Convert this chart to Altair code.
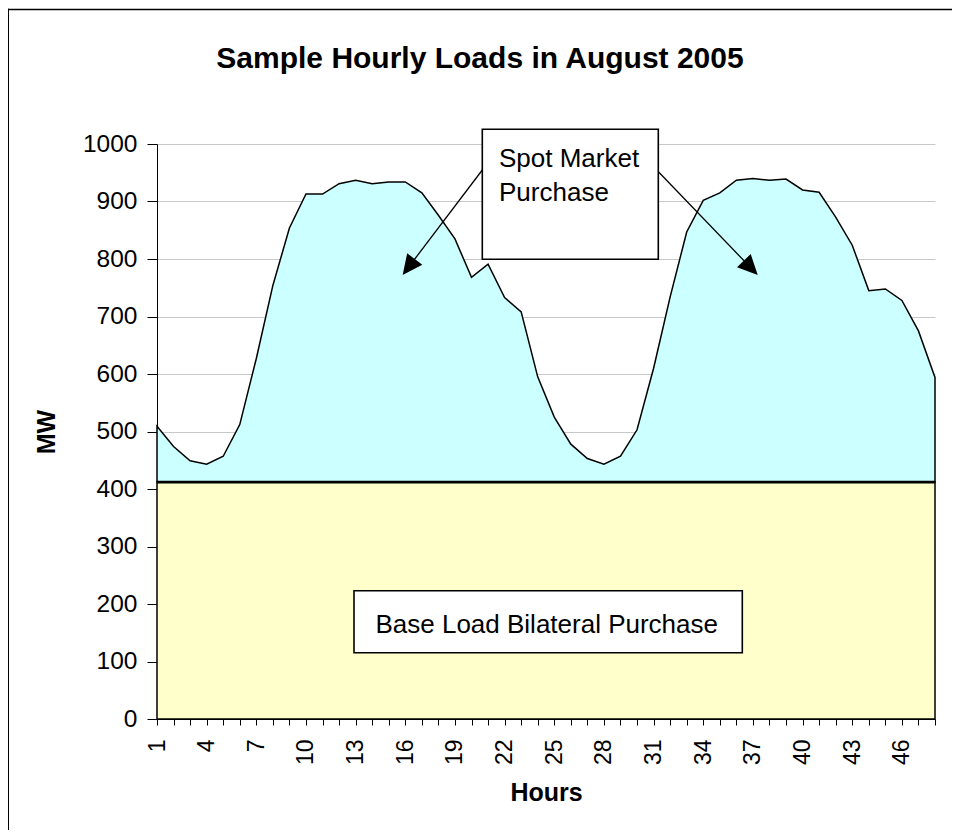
import altair as alt
import pandas as pd

# ---------------- data ----------------
HOURS = list(range(1, 49))
LOAD_MW = [509, 474, 449, 443, 457, 512, 627, 754, 854, 913,
           913, 931, 937, 931, 934, 934, 915, 876, 835, 768,
           791, 733, 708, 595, 525, 478, 453, 443, 457, 503,
           610, 734, 847, 902, 915, 937, 940, 937, 939, 920,
           916, 873, 824, 745, 748, 728, 675, 594]
BASE_MW = 412
Y_TICKS = [0, 100, 200, 300, 400, 500, 600, 700, 800, 900, 1000]
TITLE = "Sample Hourly Loads in August 2005"
SPOT_LABEL = ["Spot Market", "Purchase"]
BASE_LABEL = "Base Load Bilateral Purchase"

df = pd.DataFrame({
    "hour": HOURS,
    "load": LOAD_MW,
    "base": [BASE_MW] * len(HOURS),
    "zero": [0] * len(HOURS),
})
one = pd.DataFrame({"k": [0]})

FONT = "Liberation Sans"
W, H = 778, 575

x_scale = alt.Scale(domain=[1, 48], nice=False, zero=False)
y_scale = alt.Scale(domain=[0, 1000], nice=False)

x_axis = alt.Axis(
    title="Hours", values=HOURS, tickCount=len(HOURS),
    labelExpr="(datum.value - 1) % 3 == 0 ? datum.label : ''",
    labelAngle=270, labelFont=FONT, labelFontSize=23, labelColor="black",
    labelPadding=14, labelOverlap=False, labelFlush=False,
    tickSize=6, tickColor="black", domainColor="black", domainWidth=1,
    grid=False,
    titleFont=FONT, titleFontSize=25, titleFontWeight="bold", titleColor="black",
    titleY=81, titleBaseline="alphabetic",
)
y_axis = alt.Axis(
    title="MW", values=Y_TICKS, tickCount=len(Y_TICKS), format="d",
    labelFont=FONT, labelFontSize=24.5, labelColor="black", labelPadding=10,
    tickSize=10, tickColor="black", domainColor="black", domainWidth=1,
    grid=True, gridColor="#c8c8c8", gridWidth=1,
    titleFont=FONT, titleFontSize=25, titleFontWeight="bold", titleColor="black",
    titleAngle=270, titleX=-103, titleBaseline="alphabetic",
)

base = alt.Chart(df)

border_left = alt.Chart(one).mark_rule(color="black", strokeWidth=1.6).encode(
    x=alt.value(-148.8), x2=alt.value(-148.8), y=alt.value(-135.3), y2=alt.value(800))
border_top = alt.Chart(one).mark_rule(color="black", strokeWidth=1.6).encode(
    x=alt.value(-149.6), x2=alt.value(900), y=alt.value(-134.5), y2=alt.value(-134.5))

base_area = base.mark_area(fill="#FFFFCC", stroke="black", strokeWidth=1.5).encode(
    x=alt.X("hour:Q", scale=x_scale, axis=x_axis),
    y=alt.Y("base:Q", scale=y_scale, axis=y_axis),
    y2="zero:Q",
)
spot_area = base.mark_area(fill="#CCFFFF", stroke="black", strokeWidth=1.5).encode(
    x="hour:Q", y="load:Q", y2="base:Q")
base_line = base.mark_line(color="black", strokeWidth=2.6).encode(
    x="hour:Q", y="base:Q")

spot_box = alt.Chart(one).mark_rect(fill="white", stroke="black", strokeWidth=1.6).encode(
    x=alt.value(325.3), x2=alt.value(501.3), y=alt.value(-14.7), y2=alt.value(115.3))
spot_text = alt.Chart(one).mark_text(
    text=SPOT_LABEL, font=FONT, fontSize=26, align="left", baseline="alphabetic",
    lineHeight=34, color="black").encode(x=alt.value(342), y=alt.value(22.7))

arrow1 = alt.Chart(one).mark_rule(color="black", strokeWidth=1.3).encode(
    x=alt.value(325.3), y=alt.value(26), x2=alt.value(251.7), y2=alt.value(123))
arrow2 = alt.Chart(one).mark_rule(color="black", strokeWidth=1.3).encode(
    x=alt.value(499), y=alt.value(25.3), x2=alt.value(593.8), y2=alt.value(123.8))
HEAD = "M0,-1L0.95,1L-0.95,1Z"
head1 = alt.Chart(one).mark_point(shape=HEAD, size=400, filled=True, fill="black",
                                  opacity=1, angle=217.2).encode(
    x=alt.value(251.7), y=alt.value(123))
head2 = alt.Chart(one).mark_point(shape=HEAD, size=400, filled=True, fill="black",
                                  opacity=1, angle=136.1).encode(
    x=alt.value(593.8), y=alt.value(123.8))

base_box = alt.Chart(one).mark_rect(fill="white", stroke="black", strokeWidth=1.6).encode(
    x=alt.value(197), x2=alt.value(585.3), y=alt.value(446.7), y2=alt.value(508.7))
base_text = alt.Chart(one).mark_text(
    text=BASE_LABEL, font=FONT, fontSize=26, align="center", baseline="alphabetic",
    color="black").encode(x=alt.value(389.7), y=alt.value(489.3))

title = alt.Chart(one).mark_text(
    text=TITLE, font=FONT, fontSize=30, fontWeight="bold", align="center",
    baseline="alphabetic", color="black").encode(x=alt.value(323), y=alt.value(-76))

chart = alt.layer(
    border_left, border_top, base_area, spot_area, base_line,
    arrow1, arrow2, head1, head2, spot_box, spot_text,
    base_box, base_text, title,
).properties(
    width=W, height=H,
    padding={"left": 149, "top": 136, "right": 17, "bottom": 111},
    autosize=alt.AutoSizeParams(type="none"),
    background="white",
).configure_view(stroke=None)

chart.save("out.html", embed_options={"renderer": "svg", "actions": False})
